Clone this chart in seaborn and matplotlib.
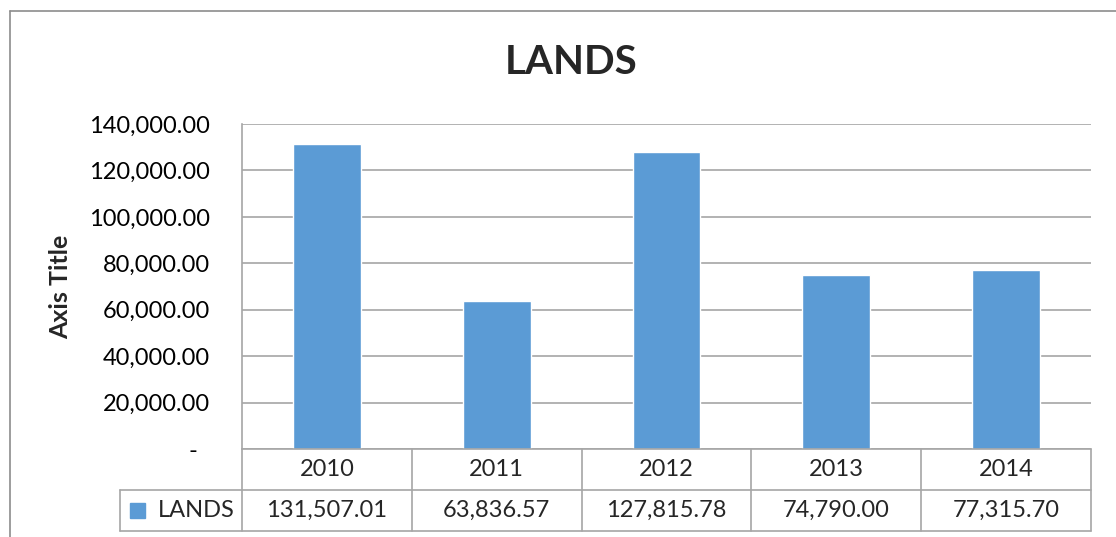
import matplotlib
matplotlib.use("Agg")
import matplotlib.pyplot as plt
from matplotlib.lines import Line2D
from matplotlib.patches import Rectangle
import seaborn as sns
import pandas as pd

# Annual land values
years = ["2010", "2011", "2012", "2013", "2014"]
lands = [131507.01, 63836.57, 127815.78, 74790.00, 77315.70]
series_name = "LANDS"
chart_title = "LANDS"
y_title = "Axis Title"
y_ticks = [0, 20000, 40000, 60000, 80000, 100000, 120000, 140000]

BAR = "#5B9BD5"
GRID = "#A6A6A6"
FONT = "Lato"
FS = 17

sns.set_theme(style="white")
plt.rcParams["font.family"] = [FONT, "DejaVu Sans"]

W, H = 1116, 537
fig = plt.figure(figsize=(W / 100, H / 100), dpi=100)

def px_rect(x0, y0, x1, y1):
    return [x0 / W, 1 - y1 / H, (x1 - x0) / W, (y1 - y0) / H]

# Main plot area
ax = fig.add_axes(px_rect(242, 124, 1091, 449))
df = pd.DataFrame({"year": years, "value": lands})
sns.barplot(data=df, x="year", y="value", color=BAR, width=0.4,
            saturation=1, ax=ax, zorder=3)
ax.set_xlim(-0.5, 4.5)
ax.set_ylim(0, 140000)
ax.set_yticks(y_ticks)
ax.set_yticklabels([f"{v:,.2f}" if v else "-  " for v in y_ticks],
                   fontsize=FS, color="black")
ax.tick_params(axis="y", length=0, pad=23)
ax.set_xticks([])
ax.set_xlabel("")
ax.set_ylabel(y_title, fontsize=18, fontweight="bold", labelpad=0)
ax.yaxis.set_label_coords(-0.2, 0.5)
ax.grid(axis="y", color=GRID, linewidth=1.2, zorder=0)
for side in ["top", "right", "bottom"]:
    ax.spines[side].set_visible(False)
ax.spines["left"].set_color(GRID)
ax.spines["left"].set_linewidth(1.2)

fig.text(571 / W, 1 - 62 / H, chart_title, ha="center", va="center",
         fontsize=29, fontweight="bold")

# Data table beneath the plot area, sharing the category scale
unit = (1091 - 242) / 5.0
left_x = -0.5 - (242 - 120) / unit
tax = fig.add_axes(px_rect(120, 449, 1092, 531))
tax.set_xlim(left_x, 4.5 + 1 / unit)
tax.set_ylim(2, 0)
tax.axis("off")

lw = 1.2
tax.plot([-0.5, 4.5], [0, 0], color=GRID, lw=lw, clip_on=False)
tax.plot([left_x, 4.5], [1, 1], color=GRID, lw=lw, clip_on=False)
tax.plot([left_x, 4.5], [2, 2], color=GRID, lw=lw, clip_on=False)
tax.plot([left_x, left_x], [1, 2], color=GRID, lw=lw, clip_on=False)
for i in range(len(years) + 1):
    tax.plot([i - 0.5, i - 0.5], [0, 2], color=GRID, lw=lw, clip_on=False)

for i, (yr, v) in enumerate(zip(years, lands)):
    tax.text(i, 0.5, yr, ha="center", va="center", fontsize=FS)
    tax.text(i, 1.5, f"{v:,.2f}", ha="center", va="center", fontsize=FS)

sq = 15 / unit
tax.add_patch(Rectangle((left_x + 10 / unit, 1.5 - 0.18), sq, 0.36,
                        color=BAR, clip_on=False))
tax.text(left_x + 38 / unit, 1.5, series_name, ha="left", va="center",
         fontsize=FS)

# Chart frame
fig.add_artist(Line2D([10 / W, 10 / W], [0, 1 - 11 / H], transform=fig.transFigure,
                      color="#8C8C8C", lw=1.2))
fig.add_artist(Line2D([10 / W, 1], [1 - 11 / H, 1 - 11 / H], transform=fig.transFigure,
                      color="#8C8C8C", lw=1.2))

fig.savefig("out.png", dpi=100)
